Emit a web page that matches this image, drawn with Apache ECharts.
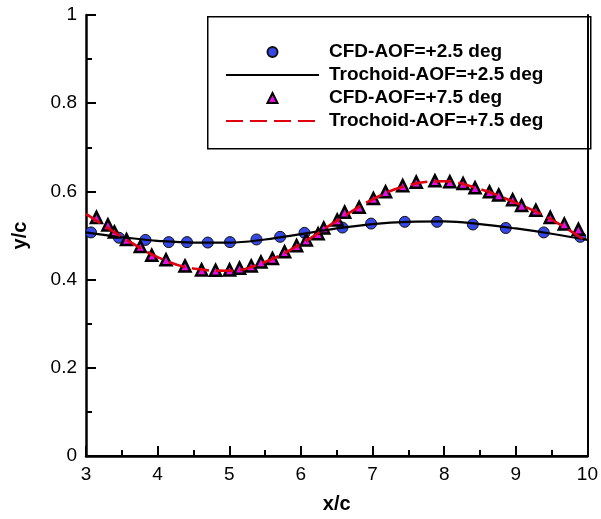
<!DOCTYPE html>
<html><head><meta charset="utf-8">
<script src="https://cdn.jsdelivr.net/npm/echarts@6/dist/echarts.min.js"></script>
<style>html,body{margin:0;padding:0;background:#fff}#c{width:601px;height:519px}</style>
</head><body><div id="c"></div>
<script>
// CFD AOF=+2.5 deg (circles)
const cfd25X = [3.07, 3.46, 3.83, 4.155, 4.41, 4.70, 5.01, 5.38, 5.71, 6.05, 6.58, 6.98, 7.45, 7.90, 8.40, 8.86, 9.39, 9.90];
const cfd25Y = [0.507, 0.495, 0.490, 0.485, 0.485, 0.484, 0.485, 0.491, 0.497, 0.506, 0.518, 0.527, 0.531, 0.531, 0.525, 0.517, 0.507, 0.497];
// Trochoid AOF=+2.5 deg (solid line)
const tro25X = [3.0, 3.5, 4.0, 4.5, 5.0, 5.5, 6.0, 6.5, 7.0, 7.5, 8.0, 8.5, 9.0, 9.5, 10.0];
const tro25Y = [0.507, 0.496, 0.488, 0.484, 0.484, 0.491, 0.503, 0.516, 0.526, 0.531, 0.532, 0.526, 0.516, 0.504, 0.490];
// CFD AOF=+7.5 deg (triangles)
const cfd75X = [3.146, 3.306, 3.397, 3.566, 3.758, 3.918, 4.117, 4.382, 4.614, 4.809, 5.004, 5.143, 5.306, 5.442, 5.602, 5.772, 5.940, 6.075, 6.240, 6.319, 6.507, 6.611, 6.813, 7.012, 7.182, 7.421, 7.610, 7.871, 8.079, 8.264, 8.431, 8.633, 8.761, 8.956, 9.081, 9.280, 9.481, 9.677, 9.874];
const cfd75Y = [0.541, 0.524, 0.508, 0.491, 0.475, 0.455, 0.445, 0.431, 0.422, 0.421, 0.422, 0.426, 0.431, 0.440, 0.448, 0.463, 0.477, 0.490, 0.504, 0.517, 0.535, 0.553, 0.564, 0.584, 0.599, 0.613, 0.621, 0.624, 0.622, 0.618, 0.608, 0.599, 0.592, 0.581, 0.568, 0.557, 0.541, 0.526, 0.514];
// Trochoid AOF=+7.5 deg (dashed line)
const tro75X = [3.0, 3.5, 4.0, 4.5, 5.0, 5.5, 6.0, 6.5, 7.0, 7.5, 8.0, 8.5, 9.0, 9.5, 10.0];
const tro75Y = [0.549, 0.497, 0.451, 0.425, 0.420, 0.440, 0.481, 0.533, 0.582, 0.614, 0.623, 0.605, 0.574, 0.536, 0.485];

const seriesNames = ['CFD-AOF=+2.5 deg', 'Trochoid-AOF=+2.5 deg', 'CFD-AOF=+7.5 deg', 'Trochoid-AOF=+7.5 deg'];
const xTicks = [3, 4, 5, 6, 7, 8, 9, 10];
const yTicks = [0, 0.2, 0.4, 0.6, 0.8, 1];

const zip = (a, b) => a.map((v, i) => [v, b[i]]);
const FONT = '"Liberation Sans", Arial, Helvetica, sans-serif';
const legendText = {fontFamily: FONT, fontWeight: 'bold', fontSize: 19, lineHeight: 20, color: '#000'};

const chart = echarts.init(document.getElementById('c'), null, {renderer: 'canvas'});
chart.setOption({
  animation: false,
  backgroundColor: '#fff',
  grid: {left: 86, right: 12, top: 15, bottom: 62},
  graphic: [{
    type: 'rect', left: 207, top: 16, z: 100,
    shape: {width: 383, height: 132},
    style: {fill: 'rgba(255,255,255,0)', stroke: '#000', lineWidth: 1.5}
  }],
  legend: [{
    // symbol entries
    orient: 'vertical', left: 266.5, top: 42, padding: 0,
    itemWidth: 10, itemHeight: 10, itemGap: 26,
    textStyle: Object.assign({padding: [0, 0, 0, 46.5]}, legendText),
    data: [
      {name: seriesNames[0], icon: 'circle'},
      {name: seriesNames[2], icon: 'triangle'}
    ]
  }, {
    // line entries
    orient: 'vertical', left: 225, top: 65, padding: 0,
    itemWidth: 93, itemHeight: 10, itemGap: 26,
    textStyle: Object.assign({padding: [0, 0, 0, 5]}, legendText),
    data: [
      {name: seriesNames[1], itemStyle: {opacity: 0}},
      {name: seriesNames[3], itemStyle: {opacity: 0}}
    ]
  }],
  xAxis: [{
    type: 'value', min: xTicks[0], max: xTicks[xTicks.length - 1], interval: 1,
    name: 'x/c', nameLocation: 'middle', nameGap: 38,
    nameTextStyle: {fontFamily: FONT, fontWeight: 'bold', fontSize: 20, color: '#000'},
    axisLine: {lineStyle: {color: '#000', width: 2.5}},
    axisTick: {inside: true, length: 10, lineStyle: {color: '#000', width: 2}},
    minorTick: {show: true, splitNumber: 2, length: 6, lineStyle: {color: '#000', width: 2}},
    axisLabel: {fontFamily: FONT, fontSize: 19, color: '#000', margin: 9},
    splitLine: {show: false}
  }, {
    type: 'value', position: 'top', min: 3, max: 10,
    axisLine: {show: true, lineStyle: {color: '#000', width: 2}},
    axisTick: {show: false}, axisLabel: {show: false}, splitLine: {show: false}
  }],
  yAxis: [{
    type: 'value', min: yTicks[0], max: yTicks[yTicks.length - 1], interval: 0.2,
    name: 'y/c', nameLocation: 'middle', nameGap: 56,
    nameTextStyle: {fontFamily: FONT, fontWeight: 'bold', fontSize: 20, color: '#000'},
    axisLine: {show: true, lineStyle: {color: '#000', width: 2.5}},
    axisTick: {inside: true, length: 10, lineStyle: {color: '#000', width: 2}},
    minorTick: {show: true, splitNumber: 2, length: 6, lineStyle: {color: '#000', width: 2}},
    axisLabel: {fontFamily: FONT, fontSize: 19, color: '#000', margin: 9},
    splitLine: {show: false}
  }, {
    type: 'value', position: 'right', min: 0, max: 1,
    axisLine: {show: true, lineStyle: {color: '#000', width: 2}},
    axisTick: {show: false}, axisLabel: {show: false}, splitLine: {show: false}
  }],
  series: [{
    name: seriesNames[0], type: 'scatter', data: zip(cfd25X, cfd25Y),
    symbol: 'circle', symbolSize: 11,
    itemStyle: {color: '#3548e6', borderColor: '#111', borderWidth: 1, opacity: 1}
  }, {
    name: seriesNames[1], type: 'line', data: zip(tro25X, tro25Y),
    smooth: 0.4, symbol: 'none',
    lineStyle: {color: '#000', width: 2.2}, itemStyle: {color: '#000'}
  }, {
    name: seriesNames[2], type: 'scatter', data: zip(cfd75X, cfd75Y),
    symbol: 'triangle', symbolSize: 11,
    itemStyle: {color: '#e010e0', borderColor: '#000', borderWidth: 2.5, opacity: 1}
  }, {
    name: seriesNames[3], type: 'line', data: zip(tro75X, tro75Y),
    smooth: 0.4, symbol: 'none',
    lineStyle: {color: '#e00010', width: 2.6, type: [17, 7]}, itemStyle: {color: '#e00010'}
  }]
});
</script>
</body></html>
